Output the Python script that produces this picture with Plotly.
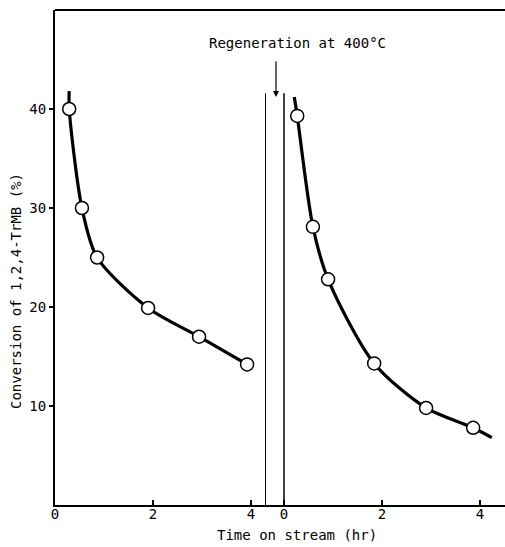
import plotly.graph_objects as go

# Data
left_t = [0.29, 0.55, 0.86, 1.90, 2.94, 3.92]
left_conv = [40.0, 30.0, 25.0, 19.9, 17.0, 14.2]
right_t = [0.27, 0.59, 0.90, 1.84, 2.90, 3.86]
right_conv = [39.3, 28.1, 22.8, 14.3, 9.8, 7.8]

# Smooth fitted curves (as drawn in the reference)
left_curve_t = [0.29, 0.29, 0.55, 0.86, 1.90, 2.94, 3.92]
left_curve_y = [41.8, 40.0, 30.0, 25.0, 19.9, 17.0, 14.2]
right_curve_t = [0.21, 0.27, 0.59, 0.90, 1.84, 2.90, 3.86, 4.24]
right_curve_y = [41.2, 39.3, 28.1, 22.8, 14.3, 9.8, 7.8, 6.8]

x_ticks = [0, 2, 4]
y_ticks = [10, 20, 30, 40]

FONT = "DejaVu Sans Mono"
L, R, T, B = 55, 0, 10, 42
W, H = 505, 547
pw = W - L - R
split = (266 - L) / pw
left_range = [0, (266 - L) / 49]
right_range = [-(284 - 266) / 49, (W - 284) / 49]

fig = go.Figure()

fig.add_trace(go.Scatter(x=left_curve_t, y=left_curve_y, mode="lines",
                         line=dict(color="black", width=3.2, shape="spline", smoothing=0.8),
                         xaxis="x", yaxis="y", hoverinfo="skip"))
fig.add_trace(go.Scatter(x=left_t, y=left_conv, mode="markers",
                         marker=dict(size=13, color="white", line=dict(color="black", width=1.5)),
                         xaxis="x", yaxis="y"))
fig.add_trace(go.Scatter(x=right_curve_t, y=right_curve_y, mode="lines",
                         line=dict(color="black", width=3.2, shape="spline", smoothing=0.8),
                         xaxis="x2", yaxis="y", hoverinfo="skip"))
fig.add_trace(go.Scatter(x=right_t, y=right_conv, mode="markers",
                         marker=dict(size=13, color="white", line=dict(color="black", width=1.5)),
                         xaxis="x2", yaxis="y"))

axis_common = dict(showgrid=False, zeroline=False, showline=True, linecolor="black",
                   linewidth=2, ticks="inside", ticklen=5, tickwidth=1.5, tickcolor="black",
                   tickvals=x_ticks, ticktext=[str(v) for v in x_ticks],
                   ticklabelstandoff=-5,
                   tickfont=dict(family=FONT, size=14, color="black"), fixedrange=True)

fig.update_layout(
    width=W, height=H, margin=dict(l=L, r=R, t=T, b=B),
    paper_bgcolor="white", plot_bgcolor="white", showlegend=False,
    xaxis=dict(domain=[0, split], range=left_range, anchor="y", **axis_common),
    xaxis2=dict(domain=[split, 1], range=right_range, anchor="y", **axis_common),
    yaxis=dict(range=[0, 50], showgrid=False, zeroline=False, showline=True,
               linecolor="black", linewidth=2, ticks="outside", ticklen=4,
               tickwidth=1.5, tickcolor="black", tickvals=y_ticks,
               tickfont=dict(family=FONT, size=14, color="black"), fixedrange=True),
    shapes=[
        dict(type="line", xref="paper", yref="paper", x0=0, x1=1, y0=1, y1=1,
             line=dict(color="black", width=2)),
        dict(type="line", xref="x", yref="y", x0=left_range[1], x1=left_range[1], y0=0, y1=41.6,
             line=dict(color="black", width=2)),
        dict(type="line", xref="x2", yref="y", x0=0, x1=0, y0=0, y1=41.6,
             line=dict(color="black", width=1.5)),
    ],
    annotations=[
        dict(text="Conversion of 1,2,4-TrMB (%)", xref="paper", yref="paper",
             x=(16 - L) / pw, y=(505 - 291) / 495, textangle=-90, showarrow=False,
             xanchor="center", yanchor="middle", font=dict(family=FONT, size=14, color="black")),
        dict(text="Time on stream (hr)", xref="paper", yref="paper",
             x=(297 - L) / pw, y=(505 - 535) / 495, showarrow=False,
             xanchor="center", yanchor="middle", font=dict(family=FONT, size=14, color="black")),
        dict(text="Regeneration at 400°C", xref="paper", yref="paper",
             x=(297 - L) / pw, y=(505 - 43) / 495, showarrow=False,
             xanchor="center", yanchor="middle", font=dict(family=FONT, size=14, color="black")),
        dict(text="", xref="x2", yref="y", x=(276 - 284) / 49, y=41.2,
             ax=0, ay=-37, showarrow=True, arrowhead=2, arrowsize=1, arrowwidth=1.2,
             arrowcolor="black"),
    ],
)

fig.write_html("out.html")
